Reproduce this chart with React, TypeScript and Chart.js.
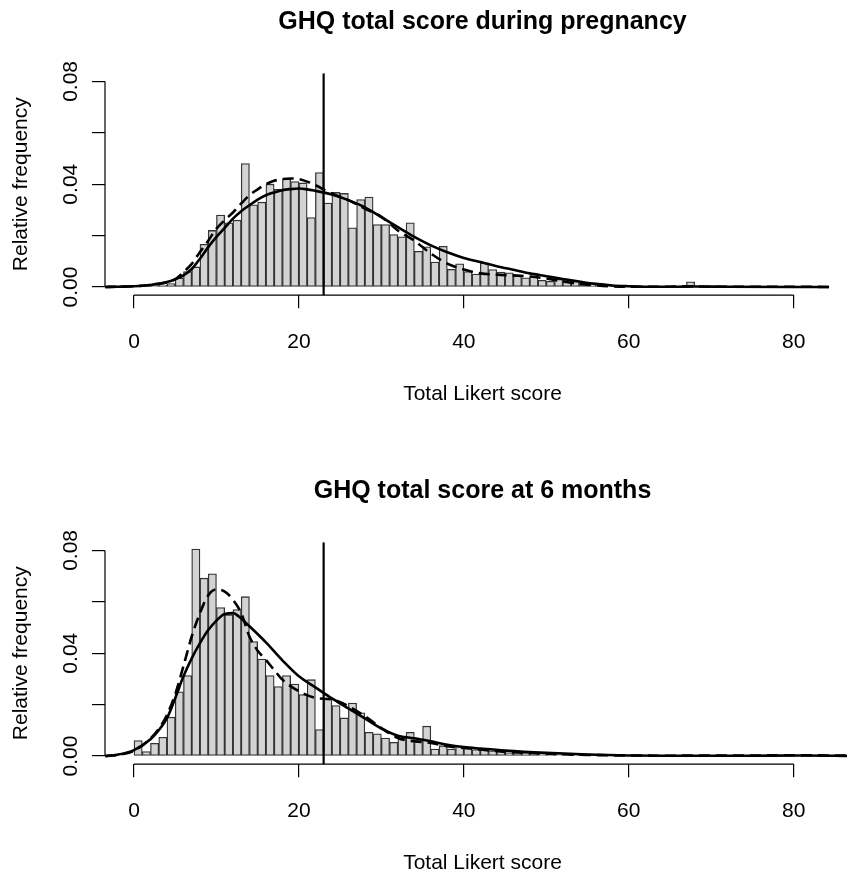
import { useEffect, useRef } from 'react';
import { Chart, registerables } from 'chart.js';

Chart.register(...registerables);

// ---------- data ----------
const xTicks = [0, 20, 40, 60, 80];
const yTicks = [0, 0.02, 0.04, 0.06, 0.08];
const yTickLabels = ['0.00', '', '0.04', '', '0.08'];
const cutoff = 23;

// relative frequency of each 1-point bin, starting at score 0
const pregBins = [
  0.0002, 0.0003, 0.0005, 0.0007, 0.0013, 0.0035, 0.006, 0.0078, 0.0166, 0.022,
  0.028, 0.025, 0.026, 0.048, 0.032, 0.033, 0.04, 0.038, 0.042, 0.041,
  0.0405, 0.027, 0.0445, 0.0327, 0.0368, 0.0364, 0.023, 0.034, 0.035, 0.0243,
  0.0243, 0.0204, 0.0195, 0.025, 0.0139, 0.0156, 0.0097, 0.0158, 0.0069, 0.009,
  0.006, 0.005, 0.0094, 0.0068, 0.0058, 0.0055, 0.0045, 0.0036, 0.0042, 0.0026,
  0.0022, 0.003, 0.0031, 0.0022, 0.0017, 0.001, 0.0005, 0.0004, 0.0003, 0.0001,
  0.0002, 0.0001, 0.0001, 0, 0.0001, 0, 0, 0.002, 0, 0,
  0, 0, 0, 0, 0, 0, 0, 0, 0, 0,
  0, 0, 0, 0,
];

const sixBins = [
  0.006, 0.0017, 0.0049, 0.0073, 0.0151, 0.025, 0.0313, 0.0805, 0.0692, 0.0709,
  0.0578, 0.055, 0.057, 0.062, 0.0445, 0.0377, 0.0313, 0.027, 0.0313, 0.028,
  0.0239, 0.0297, 0.0103, 0.0222, 0.0196, 0.0148, 0.0206, 0.0168, 0.0092, 0.0086,
  0.007, 0.0053, 0.007, 0.0092, 0.0064, 0.0116, 0.0027, 0.004, 0.0027, 0.0038,
  0.0035, 0.0025, 0.0028, 0.002, 0.0022, 0.0012, 0.0015, 0.0009, 0.001, 0.0005,
  0.0006, 0.0003, 0.0003, 0.0002, 0.0002, 0.0003, 0.0001, 0.0001, 0.0002, 0,
  0.0001, 0, 0, 0.0001, 0, 0, 0, 0, 0, 0,
  0.0001, 0.0001, 0.0002, 0.0001, 0.0001, 0, 0, 0, 0, 0,
  0.0001, 0, 0.0003, 0.0002, 0,
];

// density curves (score, density)
const pregSolidX = [-3.5, -2, 0, 2, 4, 5, 6, 7, 8, 9, 10, 11, 12, 13, 14, 15, 16, 17, 18, 19, 20, 21, 22, 24, 26, 28, 30, 32, 34, 36, 38, 40, 42, 44, 46, 48, 50, 52, 54, 56, 58, 60, 62, 66, 68, 72, 80, 84.3];
const pregSolidY = [0, 0.0001, 0.0003, 0.0008, 0.0019, 0.003, 0.0045, 0.007, 0.011, 0.0155, 0.0195, 0.023, 0.0266, 0.0295, 0.0318, 0.034, 0.0357, 0.0368, 0.0377, 0.0381, 0.0383, 0.038, 0.0374, 0.036, 0.0338, 0.031, 0.0272, 0.0233, 0.0195, 0.0162, 0.0135, 0.0113, 0.0097, 0.0081, 0.0067, 0.0053, 0.0042, 0.0031, 0.0021, 0.0012, 0.0006, 0.0003, 0.0001, 0.0001, 0.0002, 0.0001, 0, 0];

const pregDashX = [-3.5, -2, 0, 2, 4, 5, 6, 7, 8, 9, 10, 11, 12, 13, 14, 15, 16, 17, 18, 19, 20, 21, 22, 24, 26, 28, 30, 32, 34, 36, 38, 40, 42, 44, 46, 48, 50, 52, 54, 56, 58, 60, 64, 67, 70, 75, 80, 84.3];
const pregDashY = [0, 0.0001, 0.0003, 0.0008, 0.0018, 0.003, 0.0058, 0.009, 0.0136, 0.018, 0.0227, 0.026, 0.029, 0.0325, 0.0357, 0.038, 0.04, 0.0413, 0.042, 0.0422, 0.042, 0.041, 0.0396, 0.0364, 0.0338, 0.0305, 0.0273, 0.022, 0.018, 0.013, 0.0091, 0.0068, 0.0053, 0.0048, 0.0045, 0.0041, 0.0033, 0.0022, 0.0012, 0.0006, 0.0002, 0.0001, 0.0001, 0.0003, 0.0001, 0.0001, 0.0001, 0];

const sixSolidX = [-3.5, -2, 0, 2, 3, 4, 5, 6, 7, 8, 9, 10, 11, 12, 13, 14, 16, 18, 20, 22, 24, 26, 28, 30, 32, 34, 36, 38, 40, 42, 45, 50, 55, 60, 65, 70, 75, 80, 85, 86.5];
const sixSolidY = [0, 0.0005, 0.0023, 0.0065, 0.01, 0.0147, 0.0225, 0.031, 0.038, 0.0439, 0.049, 0.0527, 0.0553, 0.0556, 0.0535, 0.0505, 0.0442, 0.0372, 0.031, 0.0267, 0.0224, 0.0185, 0.0146, 0.0107, 0.0079, 0.0069, 0.0057, 0.0044, 0.0035, 0.0029, 0.0021, 0.0012, 0.0006, 0.0002, 0.0001, 0.0001, 0.0001, 0.0002, 0.0001, 0];

const sixDashX = [-3.5, -2, 0, 2, 3, 4, 5, 6, 7, 8, 9, 10, 11, 12, 13, 14, 15, 16, 17, 18, 20, 22, 24, 26, 28, 30, 32, 34, 36, 38, 40, 42, 45, 50, 55, 60, 65, 70, 75, 80, 84, 87];
const sixDashY = [0, 0.0004, 0.002, 0.0068, 0.0105, 0.016, 0.024, 0.035, 0.0465, 0.0556, 0.0625, 0.0648, 0.064, 0.0608, 0.0556, 0.0465, 0.041, 0.0374, 0.0335, 0.0297, 0.0252, 0.0226, 0.022, 0.0194, 0.0155, 0.0109, 0.007, 0.0057, 0.0051, 0.0038, 0.0031, 0.0025, 0.0016, 0.0009, 0.0004, 0.0002, 0.0001, 0.0002, 0.0002, 0.0003, 0.0002, 0.0001];

// ---------- layout constants ----------
const CANVAS_W = 860;
const CANVAS_H = 420;
const X_MIN = -3.517;
const X_MAX = 88.05;
const Y_MIN = -0.0032;
const Y_MAX = 0.0832;
const FONT = 'Liberation Sans, Arial, Helvetica, sans-serif';

const axisLines = {
  id: 'axisLines',
  afterDraw(chart: any) {
    const { ctx, chartArea, scales } = chart;
    const x = scales.x;
    const y = scales.y;
    ctx.save();
    ctx.strokeStyle = '#000';
    ctx.lineWidth = 1.2;
    ctx.beginPath();
    ctx.moveTo(x.getPixelForValue(xTicks[0]), chartArea.bottom);
    ctx.lineTo(x.getPixelForValue(xTicks[xTicks.length - 1]), chartArea.bottom);
    ctx.moveTo(chartArea.left, y.getPixelForValue(yTicks[0]));
    ctx.lineTo(chartArea.left, y.getPixelForValue(yTicks[yTicks.length - 1]));
    ctx.stroke();
    ctx.restore();
  },
};

type PanelProps = {
  title: string;
  bins: number[];
  solidX: number[];
  solidY: number[];
  dashX: number[];
  dashY: number[];
  top: number;
};

function Panel({ title, bins, solidX, solidY, dashX, dashY, top }: PanelProps) {
  const ref = useRef<HTMLCanvasElement | null>(null);

  useEffect(() => {
    if (!ref.current) return;
    const tickFont = { family: FONT, size: 21 };
    const chart = new Chart(ref.current, {
      type: 'bar',
      data: {
        datasets: [
          {
            type: 'line',
            data: solidX.map((x, i) => ({ x, y: solidY[i] })),
            borderColor: '#000',
            borderWidth: 2.6,
            pointRadius: 0,
            cubicInterpolationMode: 'monotone',
            fill: false,
            order: 1,
          } as any,
          {
            type: 'line',
            data: dashX.map((x, i) => ({ x, y: dashY[i] })),
            borderColor: '#000',
            borderWidth: 2.6,
            borderDash: [11, 6],
            pointRadius: 0,
            cubicInterpolationMode: 'monotone',
            fill: false,
            order: 2,
          } as any,
          {
            type: 'line',
            data: [
              { x: cutoff, y: Y_MIN },
              { x: cutoff, y: Y_MAX },
            ],
            borderColor: '#000',
            borderWidth: 2.2,
            pointRadius: 0,
            fill: false,
            order: 0,
          } as any,
          {
            type: 'bar',
            data: bins.map((v, i) => ({ x: i + 0.5, y: v })),
            backgroundColor: '#d3d3d3',
            borderColor: '#333',
            borderWidth: 1.3,
            borderSkipped: false,
            barPercentage: 1,
            categoryPercentage: 1,
            order: 5,
          } as any,
        ],
      },
      options: {
        responsive: false,
        animation: false,
        devicePixelRatio: 1,
        layout: { padding: 0 },
        plugins: {
          legend: { display: false },
          tooltip: { enabled: false },
          title: {
            display: true,
            text: title,
            fullSize: false,
            color: '#000',
            font: { family: FONT, size: 25, weight: 'bold', lineHeight: 1.2 },
            padding: { top: 7, bottom: 36.2 },
          },
        },
        scales: {
          x: {
            type: 'linear',
            min: X_MIN,
            max: X_MAX,
            offset: false,
            afterBuildTicks: (s: any) => {
              s.ticks = xTicks.map((v) => ({ value: v }));
            },
            afterFit: (s: any) => {
              s.height = CANVAS_H - 295.2;
            },
            grid: { offset: false, drawOnChartArea: false, drawTicks: true, tickLength: 13, color: '#000', lineWidth: 1.2 },
            border: { display: false },
            ticks: {
              padding: 21,
              color: '#000',
              font: tickFont,
              maxRotation: 0,
              autoSkip: false,
              callback: (v: any) => String(v),
            },
            title: {
              display: true,
              text: 'Total Likert score',
              color: '#000',
              font: { family: FONT, size: 21, lineHeight: 1.2 },
              padding: { top: 0, bottom: 12.9 },
            },
          },
          y: {
            type: 'linear',
            min: Y_MIN,
            max: Y_MAX,
            beginAtZero: false,
            afterBuildTicks: (s: any) => {
              s.ticks = yTicks.map((v) => ({ value: v }));
            },
            afterFit: (s: any) => {
              s.width = 105;
            },
            grid: { drawOnChartArea: false, drawTicks: true, tickLength: 13, color: '#000', lineWidth: 1.2 },
            border: { display: false },
            ticks: {
              padding: 0,
              color: '#000',
              font: tickFont,
              minRotation: 90,
              maxRotation: 90,
              crossAlign: 'center',
              autoSkip: false,
              callback: (v: any) => {
                const i = yTicks.findIndex((t) => Math.abs(t - v) < 1e-9);
                return i >= 0 ? yTickLabels[i] : '';
              },
            },
            title: {
              display: true,
              text: 'Relative frequency',
              color: '#000',
              font: { family: FONT, size: 21, lineHeight: 1.2 },
              padding: { top: 9, bottom: 0 },
            },
          },
        },
      } as any,
      plugins: [axisLines],
    });
    return () => chart.destroy();
  }, [title, bins, solidX, solidY, dashX, dashY]);

  return (
    <canvas
      ref={ref}
      width={CANVAS_W}
      height={CANVAS_H}
      style={{ position: 'absolute', left: 0, top, width: CANVAS_W, height: CANVAS_H, display: 'block' }}
    />
  );
}

export default function App() {
  return (
    <div
      style={{
        position: 'absolute',
        left: 0,
        top: 0,
        width: 847,
        height: 874,
        overflow: 'hidden',
        background: '#fff',
      }}
    >
      <Panel
        title="GHQ total score during pregnancy"
        bins={pregBins}
        solidX={pregSolidX}
        solidY={pregSolidY}
        dashX={pregDashX}
        dashY={pregDashY}
        top={0}
      />
      <Panel
        title="GHQ total score at 6 months"
        bins={sixBins}
        solidX={sixSolidX}
        solidY={sixSolidY}
        dashX={sixDashX}
        dashY={sixDashY}
        top={469}
      />
    </div>
  );
}
